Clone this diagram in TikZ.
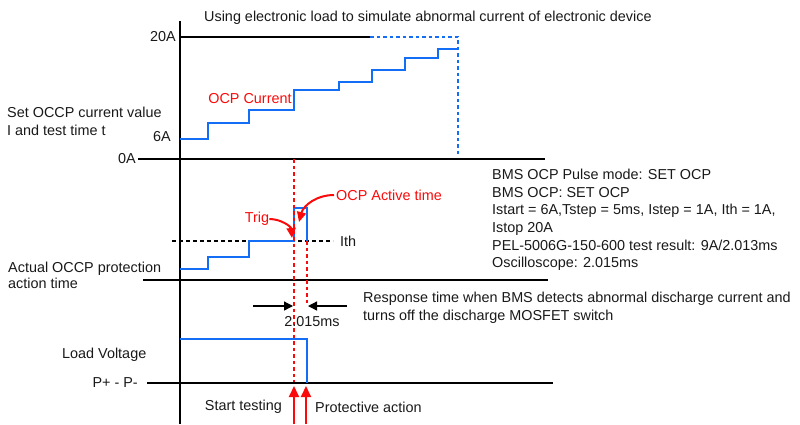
\documentclass[tikz,border=0pt]{standalone}
\usepackage{fontspec}
\setmainfont{Liberation Sans}
\usetikzlibrary{arrows.meta,positioning}

\definecolor{waveblue}{RGB}{20,110,245}
\definecolor{markred}{RGB}{250,10,10}
\definecolor{txtgray}{RGB}{25,25,25}

\tikzset{
  lbl/.style={inner sep=0pt, text=txtgray},
  redlbl/.style={inner sep=0pt, text=markred},
  axisline/.style={line width=1.4pt, black},
  wave/.style={draw=waveblue, line width=1.8pt},
  wavedash/.style={draw=waveblue, line width=1.6pt, dash pattern=on 3.5pt off 3pt},
  markline/.style={draw=markred, line width=1.5pt, dash pattern=on 3.5pt off 3pt},
  thline/.style={black, line width=1.3pt, dash pattern=on 4pt off 3pt},
  dimarrow/.style={-{Triangle[length=9pt, width=9pt]}, line width=1.3pt, black},
  uparrow/.style={-{Triangle[length=11pt, width=10pt]}, line width=2pt, markred},
  curvarrow/.style={-{Triangle[length=10pt, width=9pt]}, line width=2pt, markred}
}

\begin{document}
\begin{tikzpicture}[x=1pt, y=-1pt, font=\fontsize{14.4}{17.6}\selectfont]
\useasboundingbox (0,0) rectangle (800,424);

% Title
\node[lbl, anchor=west] (title) at (204,18) {Using electronic load to simulate abnormal current of electronic device};

% ========== Time axis ==========
\draw[axisline] (180,21) -- (180,424);

% ========== Set current ==========
\node[lbl, anchor=east] (i20) at (176,37) {20A};
\node[lbl, anchor=east] (i6) at (171,137) {6A};
\node[lbl, anchor=east] (i0) at (136,159) {0A};
\node[lbl, anchor=west, align=left] (setcur) at (7,121.5) {Set OCCP current value\\I and test time t};
\draw[axisline] (180,37) -- (370,37);
\draw[axisline] (138,159) -- (545,159);
\draw[wavedash] (370,37) -| (458,157);
% staircase
\draw[wave] (180,139) -| (208,123) -| (249,110) -| (294,90) -| (339,82)
  -| (372,70) -| (405,58) -| (438,49) -- (458,49);
\node[redlbl] (ocpcur) at (250,99) {OCP Current};

% ========== Actual protection ==========
\node[lbl, anchor=west, align=left, font=\fontsize{14.4}{16}\selectfont] (actual) at (8,275) {Actual OCCP protection\\action time};
\draw[axisline] (143,280) -- (548,280);
\draw[thline] (172,241) -- (333,241);
\node[lbl, anchor=west] (ith) at (340,241) {Ith};
\draw[wave] (180,269) -| (208,257) -| (249,241) -| (294,208) -| (307,241);

% markers
\draw[markline] (294,159) -- (294,386);
\draw[markline] (307,241) -- (307,303);

\node[redlbl] (trig) at (257,219) {Trig};
\node[redlbl, anchor=west] (active) at (336,195) {OCP Active time};
\coordinate (trigtip) at (292,238);
\coordinate (acttip) at (299,222);
\draw[curvarrow] (trig.east) to[out=0, in=95] (trigtip);
\draw[curvarrow] ([xshift=-2pt]active.west) to[out=180, in=75] (acttip);

% settings
\node[lbl, anchor=west, align=left] (settings) at (492,220) {BMS OCP Pulse mode: SET OCP\\BMS OCP: SET OCP\\Istart = 6A,Tstep = 5ms, Istep = 1A, Ith = 1A,\\Istop 20A\\PEL-5006G-150-600 test result: 9A/2.013ms\\Oscilloscope: 2.015ms};

% ========== Response time ==========
\coordinate (lstart) at (253,306);
\coordinate (ltip) at (293,306);
\coordinate (rstart) at (347,306);
\coordinate (rtip) at (308,306);
\draw[dimarrow] (lstart) -- (ltip);
\draw[dimarrow] (rstart) -- (rtip);
\node[lbl] (resp) at (312,322) {2.015ms};
\node[lbl, anchor=west, align=left] (respnote) at (363,308) {Response time when BMS detects abnormal discharge current and\\turns off the discharge MOSFET switch};

% ========== Load voltage ==========
\node[lbl, anchor=west] (loadv) at (62,355) {Load Voltage};
\node[lbl, anchor=east] (pp) at (138,383) {P+ - P-};
\draw[axisline] (147,383) -- (553,383);
\draw[wave] (180,339) -| (307,383);

% start / protect arrows
\coordinate (sbot) at (294,424);
\coordinate (stip) at (294,386);
\coordinate (pbot) at (306,424);
\coordinate (ptip) at (306,386);
\draw[uparrow] (sbot) -- (stip);
\draw[uparrow] (pbot) -- (ptip);
\node[lbl, anchor=east] (start) at (282,407) {Start testing};
\node[lbl, anchor=west] (protect) at (315,407) {Protective action};

\end{tikzpicture}
\end{document}
